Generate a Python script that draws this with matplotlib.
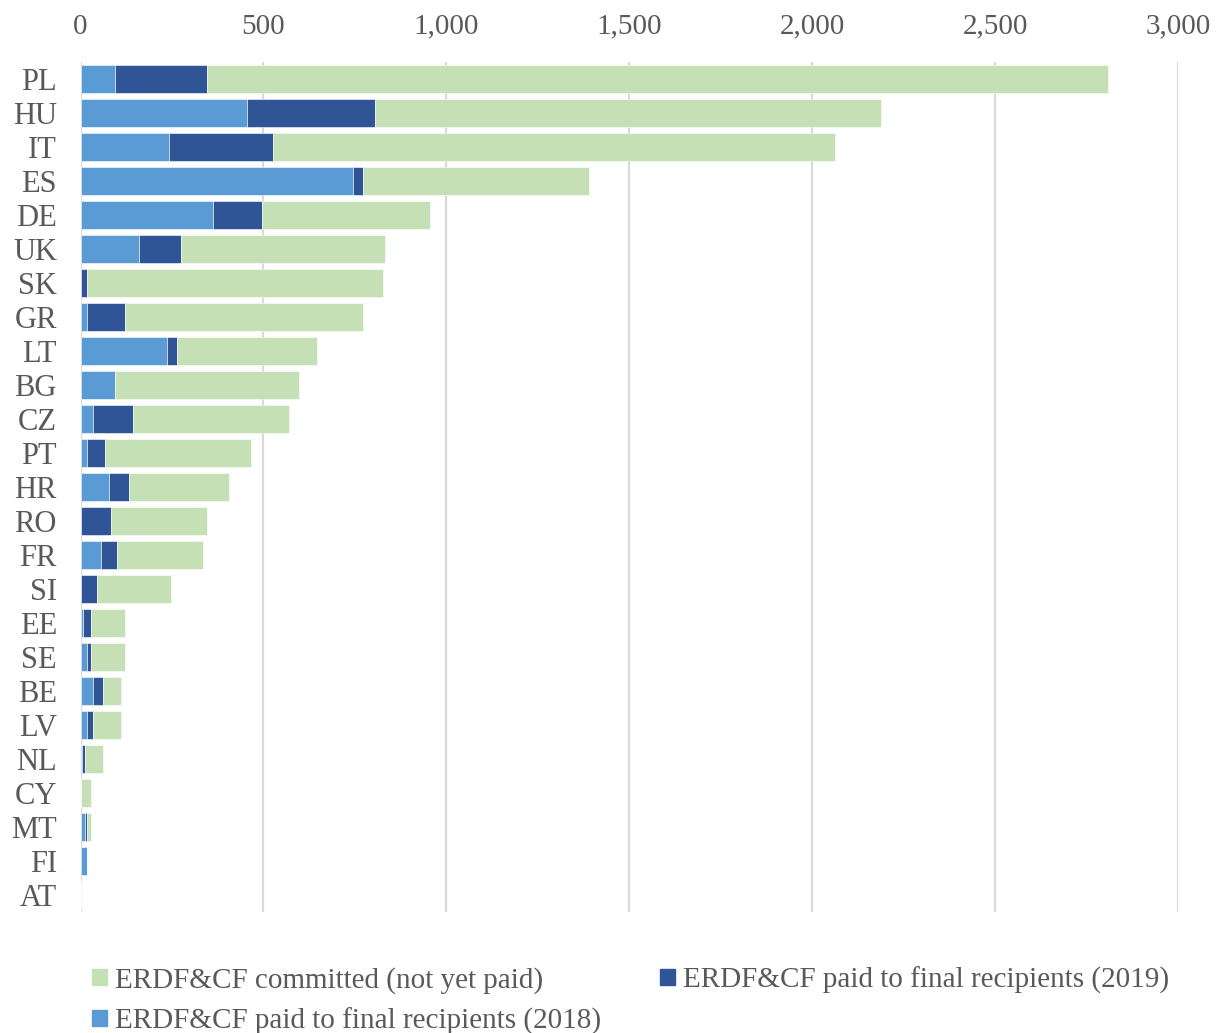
import matplotlib
matplotlib.use("Agg")
import matplotlib.pyplot as plt
from matplotlib.patches import Patch

countries = ["PL", "HU", "IT", "ES", "DE", "UK", "SK", "GR", "LT", "BG", "CZ", "PT",
             "HR", "RO", "FR", "SI", "EE", "SE", "BE", "LV", "NL", "CY", "MT", "FI", "AT"]
paid_2018 = [95, 455, 242, 746, 363, 160, 0, 17, 237, 95, 35, 17,
             78, 0, 57, 0, 7, 18, 35, 18, 3, 0, 13, 18, 0]
paid_2019 = [251, 351, 285, 27, 132, 115, 17, 105, 27, 0, 109, 50,
             55, 84, 43, 46, 22, 11, 27, 17, 10, 0, 5, 0, 0]
committed = [2462, 1382, 1535, 617, 459, 558, 810, 650, 383, 503, 427, 399,
             274, 262, 235, 201, 93, 93, 49, 76, 49, 29, 11, 0, 0]
x_ticks = [0, 500, 1000, 1500, 2000, 2500, 3000]

c_green = "#C5E0B4"
c_dark = "#2F5597"
c_light = "#5B9BD5"
grey = "#595959"
font = "Liberation Serif"

fig = plt.figure(figsize=(12.2, 10.33), dpi=100)
ax = fig.add_axes([0.066, 0.117, 0.8996, 0.823])

ypos = list(range(len(countries)))
h = 0.82
left2 = paid_2018
left3 = [a + b for a, b in zip(paid_2018, paid_2019)]
ax.barh(ypos, paid_2018, height=h, color=c_light, edgecolor="white", linewidth=0.4, zorder=3)
ax.barh(ypos, paid_2019, left=left2, height=h, color=c_dark, edgecolor="white", linewidth=0.4, zorder=3)
ax.barh(ypos, committed, left=left3, height=h, color=c_green, edgecolor="white", linewidth=0.4, zorder=3)

ax.set_ylim(len(countries) - 0.5, -0.5)
ax.set_xlim(0, 3000)
ax.xaxis.tick_top()
ax.set_xticks(x_ticks)
ax.set_xticklabels([f"{v:,}" for v in x_ticks], fontsize=21, family=font, color=grey)
ax.set_yticks(ypos)
ax.set_yticklabels(countries, fontsize=22, family=font, color=grey)
ax.tick_params(axis="x", length=0, pad=16)
ax.tick_params(axis="y", length=0, pad=17)
for s in ax.spines.values():
    s.set_visible(False)
ax.grid(axis="x", color="#D9D9D9", linewidth=1.6, zorder=0)
ax.set_axisbelow(True)

handles = [Patch(color=c_green, label="ERDF&CF committed (not yet paid)"),
           Patch(color=c_light, label="ERDF&CF paid to final recipients (2018)"),
           Patch(color=c_dark, label="ERDF&CF paid to final recipients (2019)")]
leg = fig.legend(handles=handles, loc="lower left", bbox_to_anchor=(0.054, -0.027), ncol=2,
                 frameon=False, prop={"family": font, "size": 21},
                 handlelength=0.5, handleheight=0.5, handletextpad=0.3,
                 columnspacing=2.0, labelspacing=0.47)
for t in leg.get_texts():
    t.set_color(grey)

fig.savefig("out.png", dpi=100)
